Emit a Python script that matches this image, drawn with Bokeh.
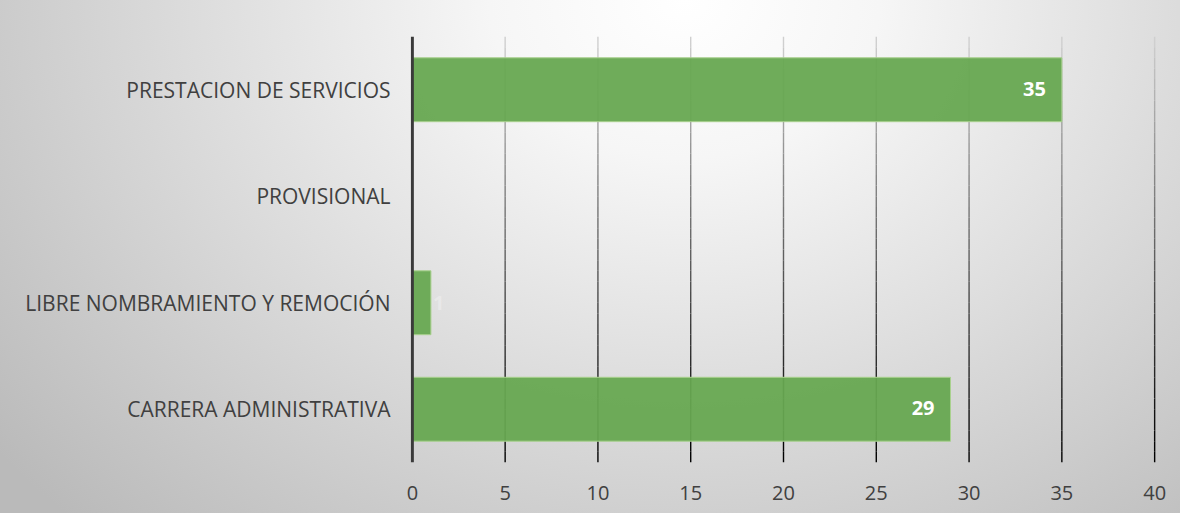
from bokeh.plotting import figure
from bokeh.models import ColumnDataSource, FactorRange, Range1d, FixedTicker
from bokeh.embed import file_html
from bokeh.resources import INLINE
from bokeh.core.properties import value

categories = ["CARRERA ADMINISTRATIVA", "LIBRE NOMBRAMIENTO Y REMOCIÓN", "PROVISIONAL", "PRESTACION DE SERVICIOS"]
counts = [29, 1, 0, 35]
x_ticks = [0, 5, 10, 15, 20, 25, 30, 35, 40]

FONT = "Open Sans"

p = figure(width=1180, height=513,
           y_range=FactorRange(factors=categories, range_padding=0),
           x_range=Range1d(-0.1, 40.1),
           output_backend="svg", toolbar_location=None,
           min_border_left=410, min_border_right=24,
           min_border_top=36, min_border_bottom=51)
p.styles = {"background": "radial-gradient(ellipse 75% 140% at 58% 0%, #ffffff 0%, #f6f6f6 22%, #bababa 100%)"}
p.border_fill_alpha = 0
p.background_fill_alpha = 0
p.outline_line_color = None
p.xgrid.visible = False
p.ygrid.visible = False

# y in synthetic categorical coordinates: 0 (bottom) .. len(categories) (top)
top = len(categories)
N = 40
gx0, gy0, gy1, gc = [], [], [], []
for t in x_ticks[1:]:
    for k in range(N):
        f = k / N
        y_hi = top * (1 - f)
        y_lo = top * (1 - (k + 1) / N)
        shade = int(210 * (1 - (f + 0.5 / N)) ** 1.1)
        gx0.append(t)
        gy0.append(y_lo)
        gy1.append(y_hi)
        gc.append("#%02x%02x%02x" % (shade, shade, shade))
grid_src = ColumnDataSource(dict(x=gx0, y0=gy0, y1=gy1, c=gc))
p.segment(x0="x", x1="x", y0="y0", y1="y1", line_color="c", line_width=1.4, source=grid_src)

src = ColumnDataSource(dict(cat=categories, val=counts))
p.hbar(y="cat", right="val", left=0, height=0.6, source=src,
       fill_color="#67A851", fill_alpha=0.95, line_color="#A9D18E", line_width=1)

# vertical axis line at 0
axis_src = ColumnDataSource(dict(x=[0], y0=[0], y1=[top]))
p.segment(x0="x", x1="x", y0="y0", y1="y1", line_color="#3a3a3a", line_width=3, source=axis_src)

lab_cat = [c for c, v in zip(categories, counts) if v >= 10]
lab_val = [v for v in counts if v >= 10]
p.text(x=lab_val, y=lab_cat, text=[str(v) for v in lab_val], text_align="right",
       text_baseline="middle", x_offset=-16, y_offset=-1, text_color="white",
       text_font=value(FONT), text_font_style="bold", text_font_size="20px")
small_cat = [c for c, v in zip(categories, counts) if 0 < v < 10]
small_val = [v for v in counts if 0 < v < 10]
p.text(x=small_val, y=small_cat, text=[str(v) for v in small_val], text_align="left",
       text_baseline="middle", x_offset=2, text_color="white", text_alpha=0.3,
       text_font=value(FONT), text_font_style="bold", text_font_size="20px")

xa = p.xaxis[0]
xa.ticker = FixedTicker(ticks=x_ticks)
xa.axis_line_color = None
xa.major_tick_line_color = None
xa.minor_tick_line_color = None
xa.major_label_standoff = 17
xa.major_label_text_font = FONT
xa.major_label_text_font_size = "20px"
xa.major_label_text_color = "#404040"

ya = p.yaxis[0]
ya.axis_line_color = None
ya.major_tick_line_color = None
ya.minor_tick_line_color = None
ya.major_label_standoff = 14
ya.major_label_text_font = FONT
ya.major_label_text_font_size = "21px"
ya.major_label_text_color = "#404040"

open("out.html", "w").write(file_html(p, INLINE))
